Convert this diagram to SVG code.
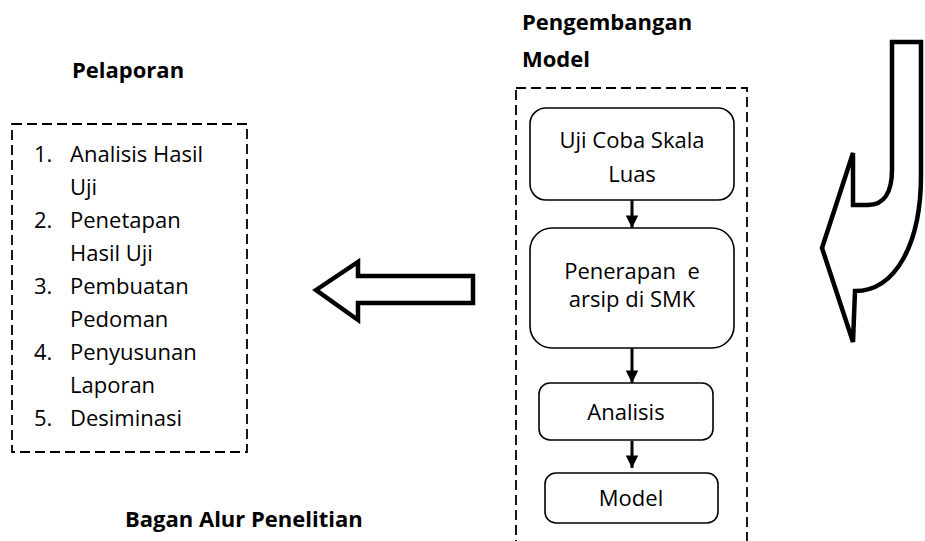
<svg xmlns="http://www.w3.org/2000/svg" width="925" height="541" viewBox="0 0 925 541">
<defs>
<style>
.t{font-family:"Open Sans","Noto Sans","Liberation Sans",sans-serif;font-size:22px;fill:#000}
.b{font-family:"Open Sans","Noto Sans","Liberation Sans",sans-serif;font-size:22px;font-weight:bold;fill:#000}
.dash{fill:none;stroke:#000;stroke-width:1.8;stroke-dasharray:10 5}
.box{fill:#fff;stroke:#000;stroke-width:1.6}
.con{stroke:#000;stroke-width:3;fill:none}
.big{fill:#fff;stroke:#000;stroke-width:4.5;stroke-linejoin:miter}
</style>
<marker id="ah" viewBox="0 0 10 10" refX="10" refY="5" markerWidth="4.2" markerHeight="4.2" markerUnits="strokeWidth" orient="auto">
<path d="M0,0 L10,5 L0,10 Z" fill="#000"/>
</marker>
</defs>
<rect width="925" height="541" fill="#fff"/>

<g id="title-pelaporan"><text class="b" x="72" y="78">Pelaporan</text></g>
<g id="title-pengembangan"><text class="b" x="522" y="30">Pengembangan</text><text class="b" x="522" y="67">Model</text></g>
<g id="title-bagan"><text class="b" x="125" y="527">Bagan Alur Penelitian</text></g>

<g id="pelaporan">
<rect class="dash" x="12" y="124" width="235" height="328"/>
<text class="t" x="34" y="162">1.</text><text class="t" x="70" y="162">Analisis Hasil</text>
<text class="t" x="70" y="195">Uji</text>
<text class="t" x="34" y="228">2.</text><text class="t" x="70" y="228">Penetapan</text>
<text class="t" x="70" y="261">Hasil Uji</text>
<text class="t" x="34" y="294">3.</text><text class="t" x="70" y="294">Pembuatan</text>
<text class="t" x="70" y="327">Pedoman</text>
<text class="t" x="34" y="360">4.</text><text class="t" x="70" y="360">Penyusunan</text>
<text class="t" x="70" y="393">Laporan</text>
<text class="t" x="34" y="426">5.</text><text class="t" x="70" y="426">Desiminasi</text>
</g>

<g id="pengembangan-frame"><rect class="dash" x="516" y="88" width="231" height="480"/></g>

<g id="uji-coba">
<rect class="box" x="530" y="108" width="204" height="92" rx="16"/>
<text class="t" x="632" y="148" text-anchor="middle">Uji Coba Skala</text>
<text class="t" x="632" y="182" text-anchor="middle">Luas</text>
</g>
<g id="penerapan">
<rect class="box" x="530" y="228" width="204" height="120" rx="22"/>
<text class="t" x="632" y="279" text-anchor="middle" xml:space="preserve">Penerapan  e</text>
<text class="t" x="632" y="307" text-anchor="middle">arsip di SMK</text>
</g>
<g id="analisis">
<rect class="box" x="539" y="383" width="174" height="57" rx="11"/>
<text class="t" x="626" y="420" text-anchor="middle">Analisis</text>
</g>
<g id="model">
<rect class="box" x="545" y="473" width="173" height="50" rx="11"/>
<text class="t" x="631" y="506" text-anchor="middle">Model</text>
</g>

<g id="connectors">
<line class="con" x1="632" y1="200" x2="632" y2="228" marker-end="url(#ah)"/>
<line class="con" x1="632" y1="348" x2="632" y2="383" marker-end="url(#ah)"/>
<line class="con" x1="632" y1="441" x2="632" y2="468" marker-end="url(#ah)"/>
</g>

<g id="arrow-left">
<path class="big" d="M316,290 L358,262 L358,276 L473,276 L473,303 L358,303 L358,320 Z"/>
</g>
<g id="arrow-uturn">
<path class="big" d="M892,42 L921,42 L921,175 C921,245 895,291 855,291 L853,342 L822,248 L853,153 L853,205 L868,205 C884,205 892,192 892,170 Z"/>
</g>
</svg>
